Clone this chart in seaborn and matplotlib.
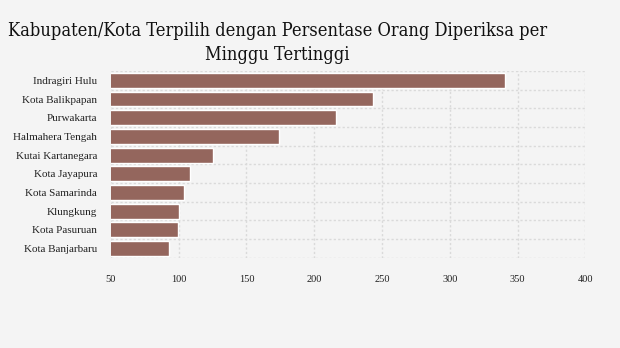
import matplotlib
matplotlib.use("Agg")
import matplotlib.pyplot as plt
from matplotlib.ticker import FixedLocator
import seaborn as sns
import pandas as pd
import numpy as np

regions = ["Indragiri Hulu", "Kota Balikpapan", "Purwakarta", "Halmahera Tengah",
           "Kutai Kartanegara", "Kota Jayapura", "Kota Samarinda", "Klungkung",
           "Kota Pasuruan", "Kota Banjarbaru"]
values = [341, 243, 216, 174, 125, 108, 104, 100, 99.5, 93]
x_ticks = [50, 100, 150, 200, 250, 300, 350, 400]
title = "Kabupaten/Kota Terpilih dengan Persentase Orang Diperiksa per\nMinggu Tertinggi"

df = pd.DataFrame({"region": regions, "value": values})

sns.set_theme(style="white")
plt.rcParams["font.family"] = ["Liberation Serif", "DejaVu Serif"]

bg = "#f4f4f4"
fig = plt.figure(figsize=(6.2, 3.48), dpi=100, facecolor=bg)
ax = fig.add_axes([0.179, 0.259, 0.765, 0.537], facecolor=bg)

sns.barplot(data=df, y="region", x="value", orient="h", color="#94665d",
            saturation=1, width=0.8, ax=ax, zorder=2)

ax.set_xlim(50, 400)
ax.set_ylim(len(regions) - 0.5, -0.5)
ax.set_xticks(x_ticks)
ax.set_xticklabels([str(t) for t in x_ticks], fontsize=7.5, color="#222222")
ax.yaxis.set_minor_locator(FixedLocator(np.arange(-0.5, len(regions), 1.0)))
ax.tick_params(axis="x", length=0, pad=12)
ax.tick_params(axis="y", which="major", length=4, width=1, color="#dddddd",
               labelsize=8, labelcolor="#222222", pad=6)
ax.tick_params(axis="y", which="minor", length=0)

grid_kw = dict(color="#dadada", linestyle=(0, (1.6, 1.6)), linewidth=1.0)
ax.grid(axis="x", which="major", **grid_kw)
ax.grid(axis="y", which="minor", **grid_kw)
ax.grid(axis="y", which="major", visible=False)
ax.set_axisbelow(True)

for s in ax.spines.values():
    s.set_visible(False)
ax.set_xlabel("")
ax.set_ylabel("")

fig.text(0.447, 0.937, title, ha="center", va="top", fontsize=13.1,
         family=["DejaVu Serif"], fontstretch="condensed", color="#111111",
         linespacing=1.4)

fig.savefig("out.png", dpi=100, facecolor=bg)
